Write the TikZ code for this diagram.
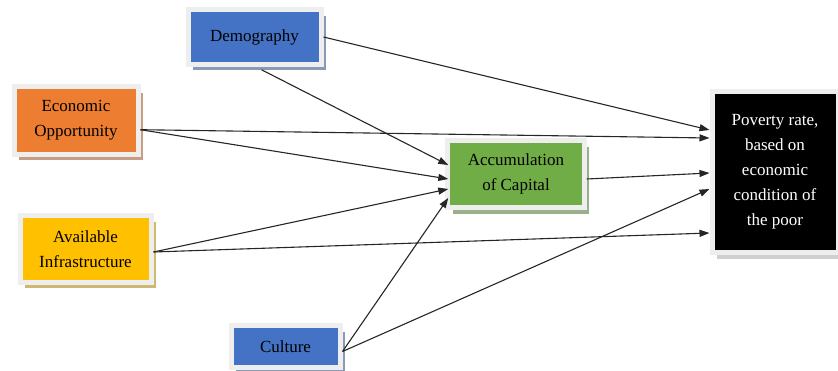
\documentclass[tikz,border=0pt]{standalone}
\usepackage{fontspec}
\setmainfont{Liberation Serif}
\definecolor{BoxBlue}{RGB}{68,114,196}
\definecolor{BoxOrange}{RGB}{237,125,49}
\definecolor{BoxYellow}{RGB}{255,192,0}
\definecolor{BoxGreen}{RGB}{112,173,71}
\definecolor{FrameGray}{RGB}{238,238,238}
\definecolor{PovShade}{RGB}{255,255,255}
\usetikzlibrary{arrows.meta, shadows}

\begin{document}
\begin{tikzpicture}[x=1pt, y=-1pt,
    box/.style={rectangle, draw=FrameGray, line width=5pt, align=center,
                font=\fontsize{17}{25}\selectfont, inner sep=2pt, fill=#1,
                drop shadow={shadow xshift=5pt, shadow yshift=-6pt,
                             fill=#1!50!gray!75!white, opacity=1}},
    arr/.style={-{Triangle[length=10pt, width=7pt]}, line width=1.1pt, black!85}
  ]
    \useasboundingbox (0,0) rectangle (838,370);

    % Factors on the left
    \node[box=BoxBlue, minimum width=133pt, minimum height=54.5pt] (demo)
      at (254.5,37) {Demography};

    \node[box=BoxOrange, minimum width=124pt, minimum height=67.5pt] (econ)
      at (76,120.7) {Economic\\Opportunity};

    \node[box=BoxYellow, minimum width=131pt, minimum height=66.5pt] (infra)
      at (85.5,249) {Available\\Infrastructure};

    \node[box=BoxBlue, minimum width=109pt, minimum height=42pt] (cult)
      at (285.5,346.5) {Culture};

    % Mediator
    \node[box=BoxGreen, minimum width=136.5pt, minimum height=67pt] (capital)
      at (516,174) {Accumulation\\of Capital};

    % Outcome
    \node[box=PovShade, fill=black, text=white, minimum width=126pt,
          minimum height=161pt] (poverty)
      at (775,172) {Poverty rate,\\based on\\economic\\condition of\\the poor};

    \draw[arr] (demo.east) -- ([yshift=42pt]poverty.west);
    \draw[arr] ([xshift=7pt,yshift=-3pt]demo.south) -- ([xshift=3pt,yshift=9pt]capital.west);
    \draw[arr] ([yshift=-9pt]econ.east) -- ([yshift=34pt]poverty.west);
    \draw[arr] ([yshift=-9pt]econ.east) -- ([xshift=3pt,yshift=-5pt]capital.west);
    \draw[arr] ([yshift=-3pt]infra.east) -- ([xshift=3pt,yshift=-15pt]capital.west);
    \draw[arr] ([yshift=-3pt]infra.east) -- ([yshift=-61pt]poverty.west);
    \draw[arr] ([yshift=-5pt]cult.east) -- ([xshift=3pt,yshift=-24pt]capital.west);
    \draw[arr] ([yshift=-5pt]cult.east) -- ([yshift=-17pt]poverty.west);
    \draw[arr] ([yshift=-5pt]capital.east) -- ([yshift=-1pt]poverty.west);
  \end{tikzpicture}
\end{document}
